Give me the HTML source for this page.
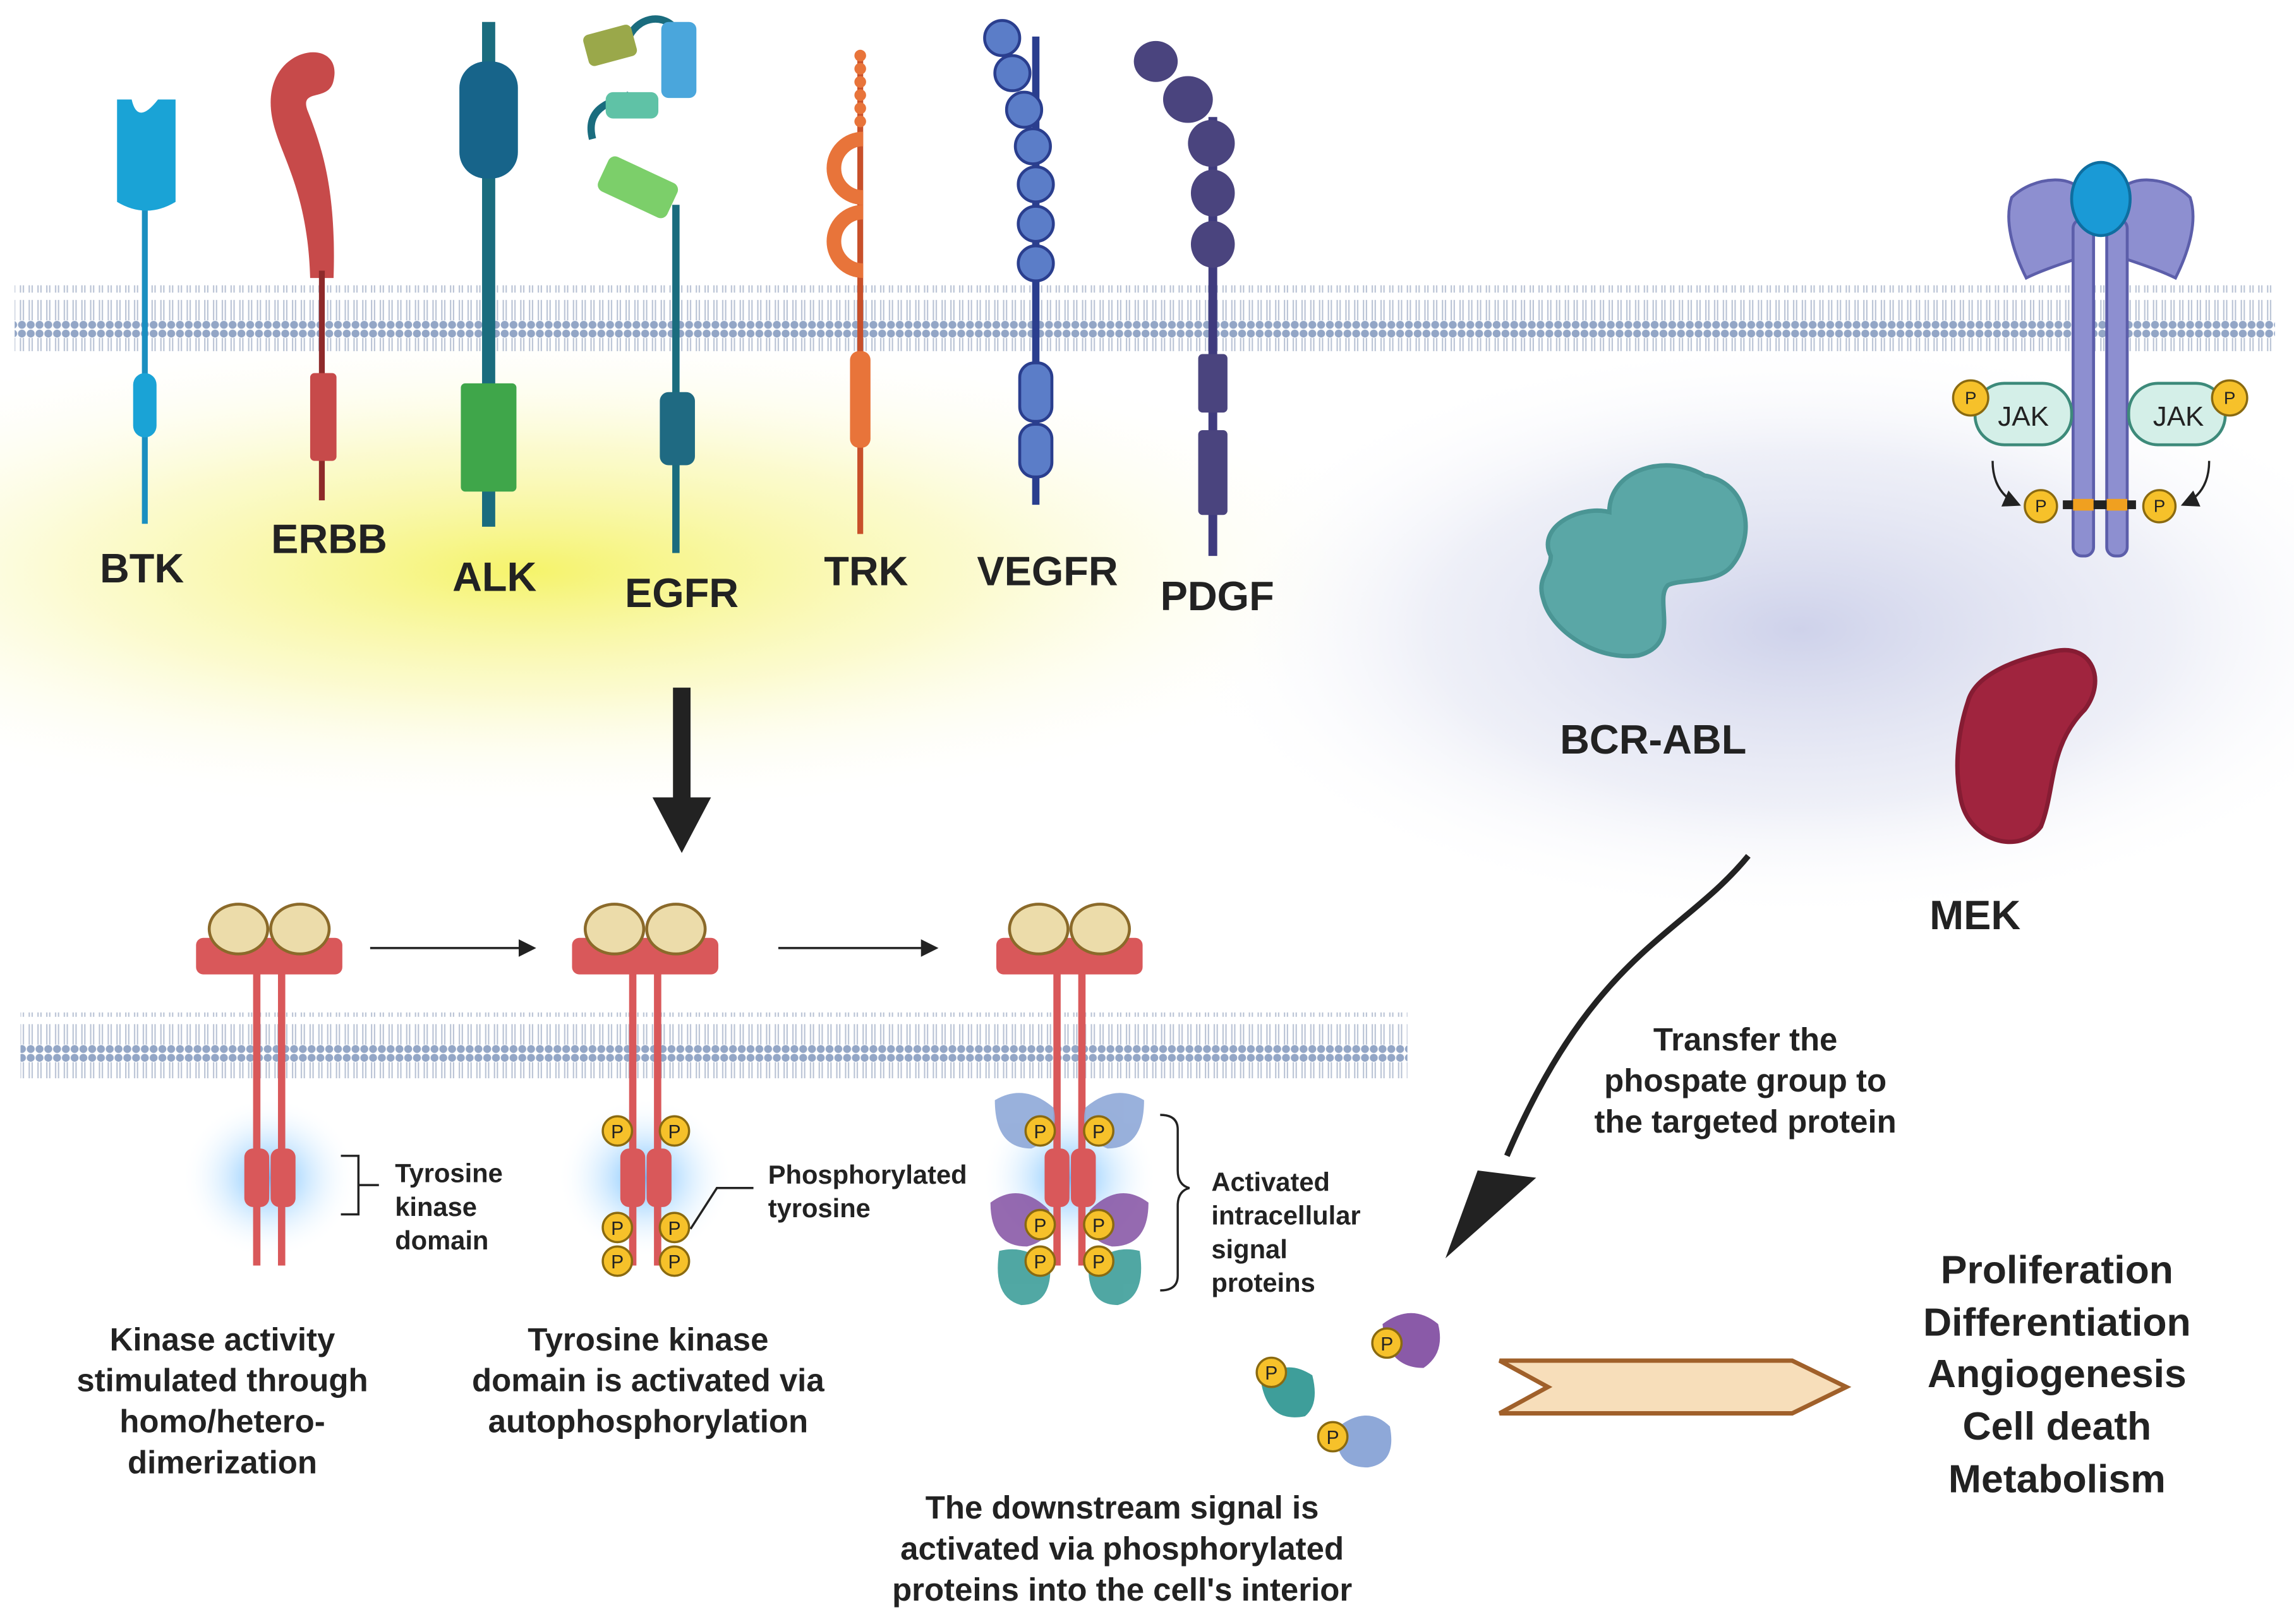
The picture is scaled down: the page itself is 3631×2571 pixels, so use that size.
<!DOCTYPE html>
<html><head><meta charset="utf-8"><style>
html,body{margin:0;padding:0;background:#fff}
svg{display:block}
text{font-family:"Liberation Sans",sans-serif;font-weight:bold;fill:#222}
</style></head><body>
<svg width="3631" height="2571" viewBox="0 0 1568 1110" preserveAspectRatio="none" xmlns="http://www.w3.org/2000/svg">
<defs>
<radialGradient id="yg" cx="50%" cy="50%" r="50%"><stop offset="0" stop-color="#f4f25a" stop-opacity="0.9"/><stop offset="0.5" stop-color="#f8f6a0" stop-opacity="0.5"/><stop offset="1" stop-color="#fff" stop-opacity="0"/></radialGradient>
<radialGradient id="bg" cx="50%" cy="50%" r="50%"><stop offset="0" stop-color="#c9cde8" stop-opacity="0.9"/><stop offset="0.6" stop-color="#dde0f0" stop-opacity="0.5"/><stop offset="1" stop-color="#fff" stop-opacity="0"/></radialGradient>
<radialGradient id="gl" cx="50%" cy="50%" r="50%"><stop offset="0" stop-color="#5ab4ff" stop-opacity="0.9"/><stop offset="1" stop-color="#fff" stop-opacity="0"/></radialGradient>
<pattern id="lip" x="0" y="0" width="6" height="45" patternUnits="userSpaceOnUse">
<circle cx="3" cy="3" r="2.7" fill="#93a6c6"/><circle cx="3" cy="42" r="2.7" fill="#93a6c6"/>
<line x1="2" y1="6" x2="2" y2="20" stroke="#b8c2d4" stroke-width="0.9"/><line x1="4" y1="6" x2="4" y2="20" stroke="#b8c2d4" stroke-width="0.9"/>
<line x1="2" y1="25" x2="2" y2="39" stroke="#b8c2d4" stroke-width="0.9"/><line x1="4" y1="25" x2="4" y2="39" stroke="#b8c2d4" stroke-width="0.9"/>
</pattern>
<marker id="ah" markerWidth="8" markerHeight="8" refX="7" refY="4" orient="auto"><path d="M0,0 L8,4 L0,8 z" fill="#222"/></marker>
</defs>
<ellipse cx="360" cy="390" rx="620" ry="170" fill="url(#yg)"/>
<ellipse cx="1230" cy="430" rx="420" ry="200" fill="url(#bg)"/>
<rect x="10" y="195" width="1545" height="45" fill="url(#lip)"/>
<line x1="99" y1="140" x2="99" y2="358" stroke="#1a8fc0" stroke-width="4"/>
<path d="M80,68 h10 q4,18 18,0 h12 v70 q-20,12 -40,0z" fill="#1aa3d6"/>
<rect x="91" y="255" width="16" height="44" rx="8" fill="#1aa3d6"/>
<path d="M212,190 C210,120 185,100 185,70 C185,30 235,25 228,55 C225,70 205,60 210,75 C220,100 230,130 228,190z" fill="#c74a4a"/>
<line x1="220" y1="185" x2="220" y2="342" stroke="#8e2a2a" stroke-width="4"/>
<rect x="212" y="255" width="18" height="60" rx="3" fill="#c74a4a"/>
<line x1="334" y1="15" x2="334" y2="360" stroke="#1a6c7e" stroke-width="9"/>
<rect x="314" y="42" width="40" height="80" rx="18" fill="#17648a"/>
<rect x="315" y="262" width="38" height="74" rx="3" fill="#3fa64a"/>
<path d="M405,95 C400,75 415,70 430,65" fill="none" stroke="#1a6c7e" stroke-width="5"/>
<path d="M430,25 C440,5 470,10 465,40" fill="none" stroke="#1a6c7e" stroke-width="5"/>
<line x1="462" y1="140" x2="462" y2="378" stroke="#1a6c7e" stroke-width="5"/>
<rect x="400" y="20" width="34" height="22" rx="4" fill="#9aa84a" transform="rotate(-15 417 31)"/>
<rect x="452" y="15" width="24" height="52" rx="5" fill="#4aa6dc"/>
<rect x="414" y="63" width="36" height="18" rx="5" fill="#5fc2a6"/>
<rect x="410" y="115" width="52" height="26" rx="5" fill="#7ccf6a" transform="rotate(25 436 128)"/>
<rect x="451" y="268" width="24" height="50" rx="6" fill="#1f6a82"/>
<line x1="588" y1="35" x2="588" y2="365" stroke="#c8502a" stroke-width="4"/>
<g fill="#e8743a"><circle cx="588" cy="38" r="4"/><circle cx="588" cy="47" r="4"/><circle cx="588" cy="56" r="4"/><circle cx="588" cy="65" r="4"/><circle cx="588" cy="74" r="4"/><circle cx="588" cy="83" r="4"/></g>
<path d="M590,95 A20,20 0 1 0 590,135" fill="none" stroke="#e8743a" stroke-width="10"/>
<path d="M590,145 A20,20 0 1 0 590,185" fill="none" stroke="#e8743a" stroke-width="10"/>
<rect x="581" y="240" width="14" height="66" rx="6" fill="#e8743a"/>
<line x1="708" y1="25" x2="708" y2="345" stroke="#2a3e8e" stroke-width="5"/>
<g fill="#5b7dc8" stroke="#2a3e8e" stroke-width="2">
<circle cx="685" cy="26" r="12"/><circle cx="692" cy="50" r="12"/><circle cx="700" cy="75" r="12"/><circle cx="706" cy="100" r="12"/><circle cx="708" cy="126" r="12"/><circle cx="708" cy="153" r="12"/><circle cx="708" cy="180" r="12"/>
<rect x="697" y="248" width="22" height="40" rx="10"/><rect x="697" y="290" width="22" height="36" rx="10"/></g>
<line x1="829" y1="80" x2="829" y2="380" stroke="#3f3b7e" stroke-width="6"/>
<g fill="#4a447e"><ellipse cx="790" cy="42" rx="15" ry="14"/><ellipse cx="812" cy="68" rx="17" ry="16"/><ellipse cx="828" cy="98" rx="16" ry="16"/><ellipse cx="829" cy="132" rx="15" ry="16"/><ellipse cx="829" cy="167" rx="15" ry="16"/>
<rect x="819" y="242" width="20" height="40" rx="3"/><rect x="819" y="294" width="20" height="58" rx="3"/></g>
<g font-size="28" text-anchor="middle"><text x="97" y="398">BTK</text><text x="225" y="378">ERBB</text><text x="338" y="404">ALK</text><text x="466" y="415">EGFR</text><text x="592" y="400">TRK</text><text x="716" y="400">VEGFR</text><text x="832" y="417">PDGF</text></g>
<rect x="460" y="470" width="12" height="80" fill="#222"/><path d="M446,545 h40 l-20,38z" fill="#222"/>
<rect x="14" y="692" width="948" height="45" fill="url(#lip)"/>
<ellipse cx="184" cy="805" rx="60" ry="55" fill="url(#gl)"/>
<ellipse cx="441" cy="805" rx="60" ry="55" fill="url(#gl)"/>
<ellipse cx="731" cy="805" rx="60" ry="55" fill="url(#gl)"/>
<g fill="#d9585a">
<rect x="134" y="641" width="100" height="25" rx="5"/><rect x="173" y="640" width="5" height="225"/><rect x="190" y="640" width="5" height="225"/><rect x="167" y="785" width="17" height="40" rx="6"/><rect x="185" y="785" width="17" height="40" rx="6"/>
<rect x="391" y="641" width="100" height="25" rx="5"/><rect x="430" y="640" width="5" height="225"/><rect x="447" y="640" width="5" height="225"/><rect x="424" y="785" width="17" height="40" rx="6"/><rect x="442" y="785" width="17" height="40" rx="6"/>
<rect x="681" y="641" width="100" height="25" rx="5"/><rect x="720" y="640" width="5" height="225"/><rect x="737" y="640" width="5" height="225"/><rect x="714" y="785" width="17" height="40" rx="6"/><rect x="732" y="785" width="17" height="40" rx="6"/>
</g>
<g fill="#ecdcaa" stroke="#8b6a2a" stroke-width="2">
<ellipse cx="163" cy="635" rx="20" ry="17"/><ellipse cx="205" cy="635" rx="20" ry="17"/>
<ellipse cx="420" cy="635" rx="20" ry="17"/><ellipse cx="462" cy="635" rx="20" ry="17"/>
<ellipse cx="710" cy="635" rx="20" ry="17"/><ellipse cx="752" cy="635" rx="20" ry="17"/></g>
<line x1="253" y1="648" x2="365" y2="648" stroke="#222" stroke-width="1.5" marker-end="url(#ah)"/>
<line x1="532" y1="648" x2="640" y2="648" stroke="#222" stroke-width="1.5" marker-end="url(#ah)"/>
<g opacity="0.9"><path d="M680,752 q20,-12 40,5 q5,20 -15,28 q-25,0 -25,-33z" fill="#8ea8d8"/><path d="M782,752 q-20,-12 -40,5 q-5,20 15,28 q25,0 25,-33z" fill="#8ea8d8"/>
<path d="M677,822 q20,-15 40,5 q5,20 -15,25 q-25,0 -25,-30z" fill="#8a5aa8"/><path d="M785,822 q-20,-15 -40,5 q-5,20 15,25 q25,0 25,-30z" fill="#8a5aa8"/>
<path d="M683,855 q20,-5 35,12 q0,25 -20,25 q-20,-5 -15,-37z" fill="#3e9e9a"/><path d="M779,855 q-20,-5 -35,12 q0,25 20,25 q20,-5 15,-37z" fill="#3e9e9a"/></g>
<g fill="#f6c12a" stroke="#8a6a10" stroke-width="1.5">
<circle cx="422" cy="773" r="10"/><circle cx="461" cy="773" r="10"/><circle cx="422" cy="839" r="10"/><circle cx="461" cy="839" r="10"/><circle cx="422" cy="862" r="10"/><circle cx="461" cy="862" r="10"/>
<circle cx="711" cy="773" r="10"/><circle cx="751" cy="773" r="10"/><circle cx="711" cy="837" r="10"/><circle cx="751" cy="837" r="10"/><circle cx="711" cy="862" r="10"/><circle cx="751" cy="862" r="10"/>
</g>
<g font-size="13" text-anchor="middle">
<text x="422" y="778" style="font-weight:normal">P</text><text x="461" y="778" style="font-weight:normal">P</text><text x="422" y="844" style="font-weight:normal">P</text><text x="461" y="844" style="font-weight:normal">P</text><text x="422" y="867" style="font-weight:normal">P</text><text x="461" y="867" style="font-weight:normal">P</text>
<text x="711" y="778" style="font-weight:normal">P</text><text x="751" y="778" style="font-weight:normal">P</text><text x="711" y="842" style="font-weight:normal">P</text><text x="751" y="842" style="font-weight:normal">P</text><text x="711" y="867" style="font-weight:normal">P</text><text x="751" y="867" style="font-weight:normal">P</text></g>
<path d="M233,790 h12 v40 h-12 M245,810 h14" fill="none" stroke="#222" stroke-width="1.5"/>
<path d="M472,840 l18,-28 h25" fill="none" stroke="#222" stroke-width="1.5"/>
<path d="M793,762 q12,0 12,10 v28 q0,10 8,12 q-8,2 -8,12 v48 q0,10 -12,10" fill="none" stroke="#222" stroke-width="1.5"/>
<g font-size="18"><text x="270" y="808">Tyrosine</text><text x="270" y="831">kinase</text><text x="270" y="854">domain</text>
<text x="525" y="809">Phosphorylated</text><text x="525" y="832">tyrosine</text>
<text x="828" y="814">Activated</text><text x="828" y="837">intracellular</text><text x="828" y="860">signal</text><text x="828" y="883">proteins</text></g>
<g font-size="22" text-anchor="middle">
<text x="152" y="923">Kinase activity</text><text x="152" y="951">stimulated through</text><text x="152" y="979">homo/hetero-</text><text x="152" y="1007">dimerization</text>
<text x="443" y="923">Tyrosine kinase</text><text x="443" y="951">domain is activated via</text><text x="443" y="979">autophosphorylation</text>
<text x="767" y="1038">The downstream signal is</text><text x="767" y="1066">activated via phosphorylated</text><text x="767" y="1094">proteins into the cell's interior</text>
<text x="1193" y="718">Transfer the</text><text x="1193" y="746">phospate group to</text><text x="1193" y="774">the targeted protein</text></g>
<path d="M1060,380 C1050,360 1080,345 1100,350 C1100,320 1140,310 1165,325 C1195,330 1200,365 1185,385 C1175,400 1150,395 1140,400 C1130,410 1150,440 1120,448 C1090,452 1060,430 1055,410 C1050,395 1060,390 1060,380z" fill="#5aa7a6" stroke="#4a9594" stroke-width="3"/>
<text x="1130" y="515" font-size="28" text-anchor="middle">BCR-ABL</text>
<path d="M1345,480 C1350,460 1380,450 1405,445 C1430,440 1440,465 1425,485 C1400,510 1405,540 1395,565 C1380,585 1345,575 1340,545 C1335,520 1340,495 1345,480z" fill="#a0243e" stroke="#861c33" stroke-width="3"/>
<text x="1350" y="635" font-size="28" text-anchor="middle">MEK</text>
<path d="M1375,135 C1390,120 1420,118 1425,135 L1425,175 C1410,180 1395,185 1385,190 C1375,170 1370,150 1375,135z" fill="#8d8fd0" stroke="#5c5eaa" stroke-width="2"/>
<path d="M1497,135 C1482,120 1452,118 1447,135 L1447,175 C1462,180 1477,185 1487,190 C1497,170 1502,150 1497,135z" fill="#8d8fd0" stroke="#5c5eaa" stroke-width="2"/>
<rect x="1417" y="150" width="14" height="230" rx="6" fill="#8d8fd0" stroke="#5c5eaa" stroke-width="2"/>
<rect x="1440" y="150" width="14" height="230" rx="6" fill="#8d8fd0" stroke="#5c5eaa" stroke-width="2"/>
<ellipse cx="1436" cy="136" rx="20" ry="25" fill="#1a9ad6" stroke="#0e6ea0" stroke-width="2"/>
<rect x="1350" y="262" width="66" height="42" rx="20" fill="#d4efe8" stroke="#3d8a7a" stroke-width="2"/>
<rect x="1455" y="262" width="66" height="42" rx="20" fill="#d4efe8" stroke="#3d8a7a" stroke-width="2"/>
<text x="1383" y="291" font-size="19" text-anchor="middle" style="font-weight:normal">JAK</text>
<text x="1489" y="291" font-size="19" text-anchor="middle" style="font-weight:normal">JAK</text>
<rect x="1410" y="342" width="50" height="6" fill="#222"/><rect x="1417" y="341" width="14" height="8" fill="#f0a020"/><rect x="1440" y="341" width="14" height="8" fill="#f0a020"/>
<g fill="#f6c12a" stroke="#8a6a10" stroke-width="1.5"><circle cx="1347" cy="272" r="12"/><circle cx="1524" cy="272" r="12"/><circle cx="1395" cy="346" r="11"/><circle cx="1476" cy="346" r="11"/></g>
<g font-size="12" text-anchor="middle"><text x="1347" y="276" style="font-weight:normal">P</text><text x="1524" y="276" style="font-weight:normal">P</text><text x="1395" y="350" style="font-weight:normal">P</text><text x="1476" y="350" style="font-weight:normal">P</text></g>
<path d="M1362,315 q0,22 18,30" fill="none" stroke="#222" stroke-width="1.5" marker-end="url(#ah)"/>
<path d="M1510,315 q0,22 -18,30" fill="none" stroke="#222" stroke-width="1.5" marker-end="url(#ah)"/>
<path d="M1195,585 C1150,640 1090,650 1030,790" fill="none" stroke="#222" stroke-width="4"/>
<path d="M1010,800 L1050,805 L988,860z" fill="#222"/>
<path d="M862,945 q15,-18 35,-5 q5,20 -5,28 q-25,5 -30,-23z" fill="#3e9e9a"/>
<path d="M945,905 q20,-15 38,0 q5,20 -10,30 q-25,0 -28,-30z" fill="#8a5aa8"/>
<path d="M915,975 q20,-15 35,0 q5,25 -15,28 q-25,0 -20,-28z" fill="#8ea8d8"/>
<g fill="#f6c12a" stroke="#8a6a10" stroke-width="1.5"><circle cx="869" cy="938" r="10"/><circle cx="948" cy="918" r="10"/><circle cx="911" cy="982" r="10"/></g>
<g font-size="13" text-anchor="middle"><text x="869" y="943" style="font-weight:normal">P</text><text x="948" y="923" style="font-weight:normal">P</text><text x="911" y="987" style="font-weight:normal">P</text></g>
<path d="M1025,930 H1225 L1262,948 L1225,966 H1025 L1058,948z" fill="#f7deba" stroke="#a0602a" stroke-width="3"/>
<g font-size="27" text-anchor="middle"><text x="1406" y="877">Proliferation</text><text x="1406" y="913">Differentiation</text><text x="1406" y="948">Angiogenesis</text><text x="1406" y="984">Cell death</text><text x="1406" y="1020">Metabolism</text></g>
</svg>
</body></html>
